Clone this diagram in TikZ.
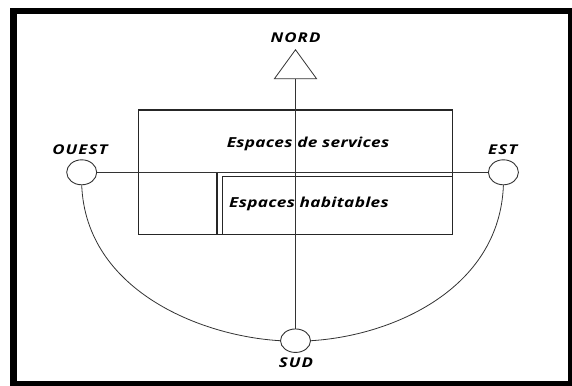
\documentclass[tikz,border=0pt]{standalone}
\usepackage{fontspec}
\setmainfont{Open Sans}
\newfontfamily\labfont{Open Sans}[FakeStretch=1.25, LetterSpace=8]
\newfontfamily\bigfont{Open Sans}[FakeStretch=1.25, LetterSpace=2]
\usetikzlibrary{shapes.geometric}
\begin{document}
\begin{tikzpicture}[x=1pt,y=-1pt,
  lab/.style={font=\labfont\fontsize{13.5}{14}\selectfont\bfseries\itshape, inner sep=0pt},
  big/.style={font=\bigfont\fontsize{13.8}{14}\selectfont\bfseries\itshape, inner sep=0pt},
  wall/.style={draw=black!85, line width=1.1pt},
  thin/.style={draw=black!80, line width=0.8pt},
  pt/.style={draw=black!80, line width=0.9pt, ellipse, minimum width=30pt, minimum height=25pt, inner sep=0pt}]
\useasboundingbox (0,0) rectangle (572,385);
\fill[white] (0,0) rectangle (572,385);
\draw[line width=6.5pt] (13.5,11) rectangle (571,384.5);
% compass labels
\node[lab] (nordlab) at (295.5,38) {NORD};
\node[lab] (ouestlab) at (80,150) {OUEST};
\node[lab] (estlab) at (502.7,150) {EST};
\node[lab] (sudlab) at (296,363) {SUD};
% compass points
\node[pt] (ouest) at (81.7,172.3) {};
\node[pt] (est) at (503.4,172.3) {};
\node[pt, minimum height=23.5pt] (sud) at (295.5,340.7) {};
\node[isosceles triangle, isosceles triangle apex angle=72, shape border rotate=90,
      draw=black!80, line width=0.8pt, minimum height=29pt, inner sep=0pt] (nord) at (295.5,68) {};
% building corners
\coordinate (otl) at (138.6,110);
\coordinate (otr) at (452.4,110);
\coordinate (obl) at (138.6,234.3);
\coordinate (obr) at (452.4,234.3);
\coordinate (dl) at (217,172.3);
\coordinate (dlb) at (217,234.3);
\coordinate (itl) at (222.3,176.7);
\coordinate (itr) at (452.4,176.7);
\coordinate (ibl) at (222.3,234.3);
% building
\draw[wall] (otl) -- (otr) -- (obr) -- (obl) -- cycle;
\draw[wall] (dl) -- (dlb);
\draw[wall] (ibl) -- (itl) -- (itr);
% axes
\draw[thin] (ouest.east) -- (est.west);
\draw[thin, line width=1pt] (nord.south) -- (sud.north);
% curves
\draw[thin] (ouest.south) .. controls (86,290) and (200,336) .. (sud.west);
\draw[thin] (est.south) .. controls (499.5,290) and (391,336) .. (sud.east);
% labels
\node[big] (serv) at (308,144) {Espaces de services};
\node[big] (hab) at (309,204) {Espaces habitables};
\end{tikzpicture}
\end{document}
